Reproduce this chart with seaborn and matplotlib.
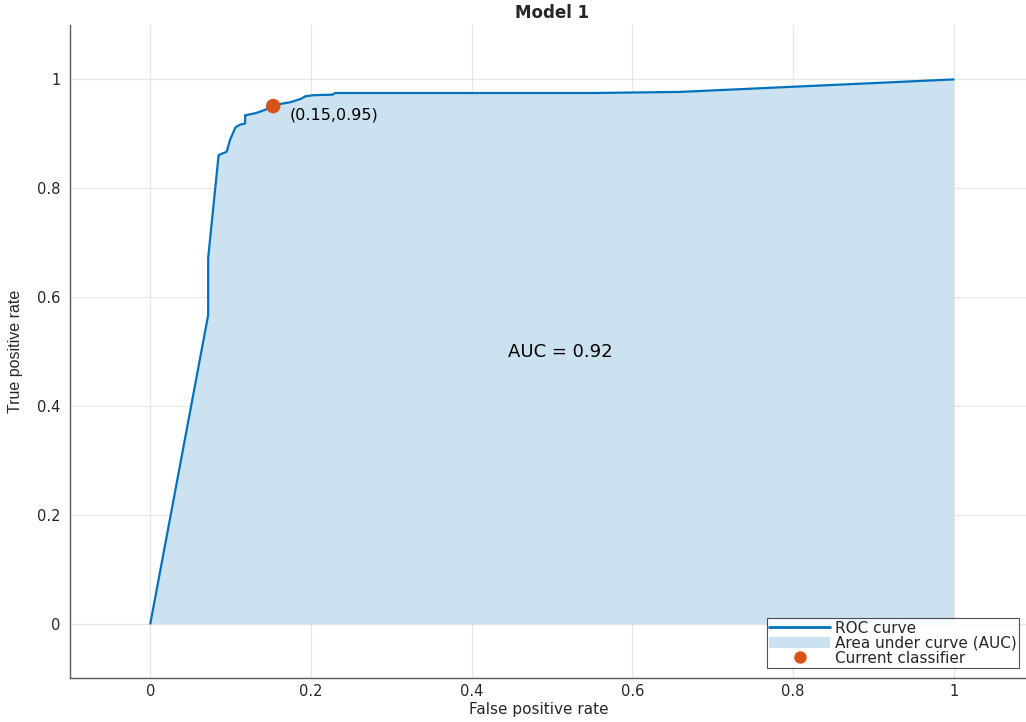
import matplotlib
matplotlib.use("Agg")
import matplotlib.pyplot as plt
import seaborn as sns
import pandas as pd
from matplotlib.lines import Line2D
from matplotlib.patches import Patch

# ROC curve points (false positive rate, true positive rate)
fpr = [0.0, 0.072, 0.072, 0.085, 0.095, 0.099, 0.106, 0.112, 0.118, 0.118,
       0.131, 0.139, 0.146, 0.153, 0.162, 0.174, 0.187, 0.193, 0.203, 0.227,
       0.230, 0.282, 0.550, 0.659, 1.0]
tpr = [0.0, 0.567, 0.672, 0.861, 0.867, 0.888, 0.912, 0.917, 0.919, 0.934,
       0.938, 0.942, 0.946, 0.951, 0.955, 0.958, 0.964, 0.969, 0.971, 0.972,
       0.975, 0.975, 0.975, 0.977, 1.0]

# Operating point of the current classifier
op_fpr = [0.153]
op_tpr = [0.951]
auc_value = 0.92
title = "Model 1"

roc = pd.DataFrame({"fpr": fpr, "tpr": tpr})
op = pd.DataFrame({"fpr": op_fpr, "tpr": op_tpr})

sns.set_style("white")
plt.rcParams["font.family"] = ["DejaVu Sans"]

line_color = "#0072BD"
fill_color = "#CCE2F0"
point_color = "#D95319"
text_color = "#262626"

fig = plt.figure(figsize=(10.26, 7.22), dpi=100)
ax = fig.add_axes([70 / 1026, 1 - 678 / 722, 964 / 1026, 653 / 722])

ax.fill_between(roc["fpr"], roc["tpr"], 0, color=fill_color, linewidth=0, zorder=1)
sns.lineplot(data=roc, x="fpr", y="tpr", ax=ax, color=line_color, linewidth=1.6,
             sort=False, estimator=None, zorder=3)
sns.scatterplot(data=op, x="fpr", y="tpr", ax=ax, color=point_color, s=110,
                edgecolor="none", zorder=4)

ax.text(op_fpr[0] + 0.02, op_tpr[0] - 0.017, f"({op_fpr[0]:.2f},{op_tpr[0]:.2f})",
        ha="left", va="center", fontsize=11.5, color="#000000")
ax.text(0.51, 0.5, f"AUC = {auc_value:.2f}", ha="center", va="center",
        fontsize=13, color="#000000")

ax.set_xlim(-0.1, 1.1)
ax.set_ylim(-0.1, 1.1)
ticks = [0, 0.2, 0.4, 0.6, 0.8, 1]
tick_labels = ["0", "0.2", "0.4", "0.6", "0.8", "1"]
ax.set_xticks(ticks)
ax.set_xticklabels(tick_labels)
ax.set_yticks(ticks)
ax.set_yticklabels(tick_labels)
ax.grid(True, color="#e6e6e6", linewidth=0.9)
ax.set_axisbelow(True)

for side in ("top", "right"):
    ax.spines[side].set_visible(False)
for side in ("left", "bottom"):
    ax.spines[side].set_color("#5a5a5a")
    ax.spines[side].set_linewidth(1.0)

ax.tick_params(axis="both", direction="in", length=7, width=0.9, color="#5a5a5a",
               labelsize=10.5, labelcolor=text_color)
ax.tick_params(axis="x", pad=4)
ax.tick_params(axis="y", pad=7)

ax.set_xlabel("False positive rate", fontsize=11, color=text_color)
ax.xaxis.set_label_coords(0.4865, -0.037, transform=ax.transAxes)
ax.xaxis.label.set_va("top")
ax.set_ylabel("True positive rate", fontsize=11.5, color=text_color, labelpad=10,
              family="Liberation Sans")
ax.set_title(title, fontsize=12, fontweight="bold", pad=5)

handles = [
    Line2D([0], [0], color=line_color, linewidth=2),
    Patch(facecolor=fill_color, edgecolor="none"),
    Line2D([0], [0], marker="o", color="none", markerfacecolor=point_color,
           markeredgecolor="none", markersize=9),
]
labels = ["ROC curve", "Area under curve (AUC)", "Current classifier"]
leg = fig.legend(handles, labels, loc="lower right",
                 bbox_to_anchor=(1019 / 1026, 1 - 668 / 722),
                 frameon=True, fancybox=False, fontsize=11, handlelength=4.0,
                 handleheight=0.75, borderpad=0.15, labelspacing=0.0,
                 handletextpad=0.3, borderaxespad=0)
leg.get_frame().set_edgecolor(text_color)
leg.get_frame().set_linewidth(0.8)

fig.savefig("out.png", dpi=100)
